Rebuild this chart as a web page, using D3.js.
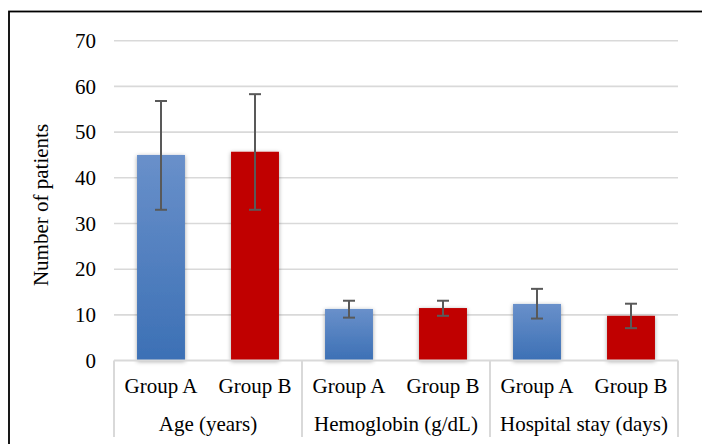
<!DOCTYPE html>
<html><head><meta charset="utf-8">
<script src="https://cdn.jsdelivr.net/npm/d3@7"></script>
<style>html,body{margin:0;padding:0;background:#fff;}svg{display:block;}
svg text{font-family:"Liberation Serif","Times New Roman",Times,serif;font-size:21px;fill:#000;}</style>
</head><body>
<svg id="c" width="702" height="444"></svg>
<script>
const categories = ["Age (years)", "Hemoglobin (g/dL)", "Hospital stay (days)"];
const groups = ["Group A", "Group B"];
const meanA = [45.0, 11.3, 12.4];
const meanB = [45.7, 11.5, 9.8];
const lowA = [33.0, 9.4, 9.2];
const highA = [56.8, 13.1, 15.7];
const lowB = [33.0, 9.8, 7.1];
const highB = [58.3, 13.1, 12.45];
const yTicks = [0, 10, 20, 30, 40, 50, 60, 70];
const yTitle = "Number of patients";

const svg = d3.select("#c");
const L = 114, R = 678, T = 40.7, B = 360.6;

// frame
svg.append("rect").attr("x", 9).attr("y", 11.5).attr("width", 720).attr("height", 460)
  .attr("fill", "none").attr("stroke", "#000").attr("stroke-width", 1.8);

const defs = svg.append("defs");
const grad = defs.append("linearGradient").attr("id", "blue").attr("x1", 0).attr("y1", 0).attr("x2", 0).attr("y2", 1);
grad.append("stop").attr("offset", "0%").attr("stop-color", "#6990ca");
grad.append("stop").attr("offset", "100%").attr("stop-color", "#3c70b5");
const f = defs.append("filter").attr("id", "sh").attr("x", "-30%").attr("y", "-10%").attr("width", "160%").attr("height", "130%");
f.append("feDropShadow").attr("dx", 0).attr("dy", 1).attr("stdDeviation", 2.2).attr("flood-color", "#000").attr("flood-opacity", 0.35);

const y = d3.scaleLinear().domain([0, 70]).range([B, T]);
const x0 = d3.scaleBand().domain(categories).range([L, R]).padding(0);
const x1 = d3.scaleBand().domain(groups).range([0, x0.bandwidth()]).padding(0);
const bw = x1.bandwidth() * 0.51;

// gridlines
svg.append("g").selectAll("line").data(yTicks.filter(d => d > 0)).join("line")
  .attr("x1", L).attr("x2", R).attr("y1", d => y(d)).attr("y2", d => y(d))
  .attr("stroke", "#d9d9d9").attr("stroke-width", 1.6);

// y tick labels
svg.append("g").selectAll("text").data(yTicks).join("text")
  .attr("x", 96).attr("y", d => y(d)).attr("dy", "0.34em").attr("text-anchor", "end")
  .text(d => d);

// y title
svg.append("text").attr("transform", `translate(48,205) rotate(-90)`)
  .attr("text-anchor", "middle").text(yTitle);

// bars
const data = [];
categories.forEach((c, i) => {
  data.push({c, g: "Group A", v: meanA[i], lo: lowA[i], hi: highA[i]});
  data.push({c, g: "Group B", v: meanB[i], lo: lowB[i], hi: highB[i]});
});
const cx = d => x0(d.c) + x1(d.g) + x1.bandwidth() / 2;

svg.append("g").selectAll("rect").data(data).join("rect")
  .attr("x", d => cx(d) - bw / 2).attr("width", bw)
  .attr("y", d => y(d.v)).attr("height", d => y(0) - y(d.v))
  .attr("fill", d => d.g === "Group A" ? "url(#blue)" : "#c00000")
  .attr("filter", "url(#sh)");

// axis line and dividers
svg.append("line").attr("x1", L).attr("x2", R).attr("y1", B).attr("y2", B)
  .attr("stroke", "#d9d9d9").attr("stroke-width", 2);
const divs = categories.map(c => x0(c)).concat([R]);
svg.append("g").selectAll("line").data(divs).join("line")
  .attr("x1", d => d).attr("x2", d => d).attr("y1", B).attr("y2", 437)
  .attr("stroke", "#d9d9d9").attr("stroke-width", 2);

// error bars
const eb = svg.append("g").attr("stroke", "#595959").attr("stroke-width", 2);
eb.selectAll(".v").data(data).join("line")
  .attr("x1", cx).attr("x2", cx).attr("y1", d => y(d.lo)).attr("y2", d => y(d.hi));
eb.selectAll(".t").data(data).join("line")
  .attr("x1", d => cx(d) - 6).attr("x2", d => cx(d) + 6).attr("y1", d => y(d.hi)).attr("y2", d => y(d.hi));
eb.selectAll(".b").data(data).join("line")
  .attr("x1", d => cx(d) - 6).attr("x2", d => cx(d) + 6).attr("y1", d => y(d.lo)).attr("y2", d => y(d.lo));

// x labels
svg.append("g").selectAll("text").data(data).join("text")
  .attr("x", cx).attr("y", 392.5).attr("text-anchor", "middle").text(d => d.g);
svg.append("g").selectAll("text").data(categories).join("text")
  .attr("x", d => x0(d) + x0.bandwidth() / 2).attr("y", 431).attr("text-anchor", "middle").text(d => d);
</script>
</body></html>
